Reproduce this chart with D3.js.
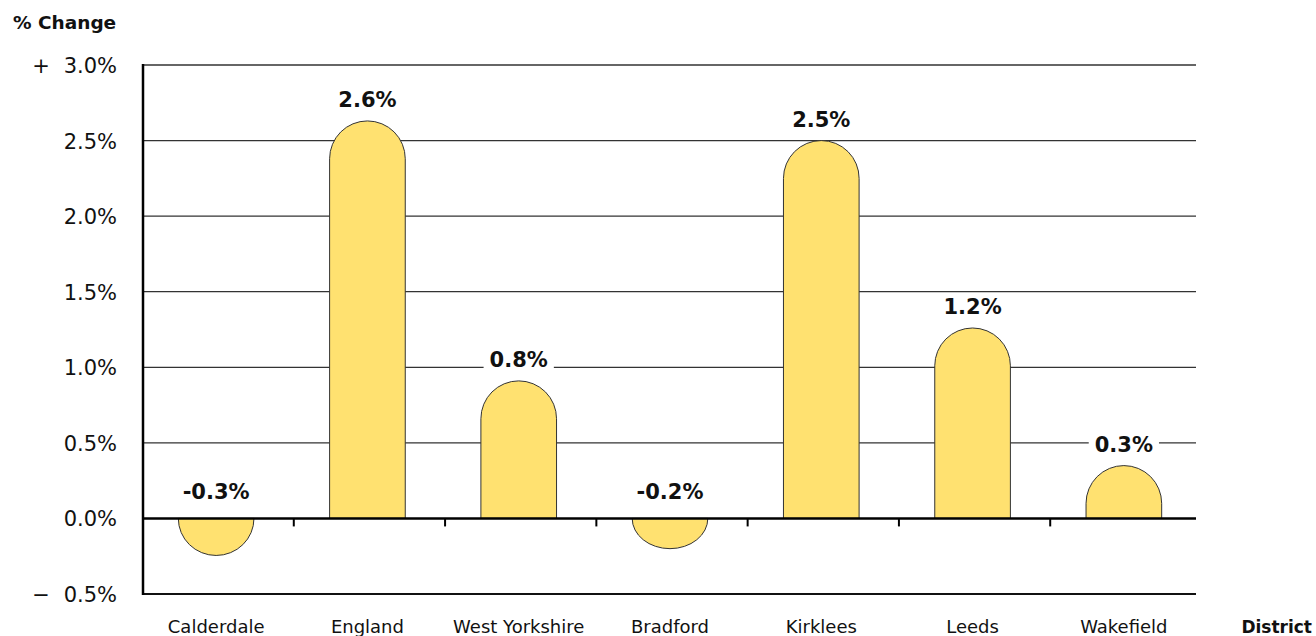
<!DOCTYPE html>
<html>
<head>
<meta charset="utf-8">
<script src="https://cdn.jsdelivr.net/npm/d3@7"></script>
<style>
  body { margin: 0; background: #fff; }
  text { font-family: "DejaVu Sans", sans-serif; fill: #111; }
</style>
</head>
<body>
<svg id="chart" width="1316" height="636"></svg>
<script>
// data
var districts = ["Calderdale", "England", "West Yorkshire", "Bradford", "Kirklees", "Leeds", "Wakefield"];
var barValues = [-0.245, 2.63, 0.91, -0.2, 2.5, 1.26, 0.35];
var valueLabels = ["-0.3%", "2.6%", "0.8%", "-0.2%", "2.5%", "1.2%", "0.3%"];
var yTicks = [-0.5, 0, 0.5, 1.0, 1.5, 2.0, 2.5, 3.0];
var yTickLabels = ["0.5%", "0.0%", "0.5%", "1.0%", "1.5%", "2.0%", "2.5%", "3.0%"];
var yTickSigns = ["\u2212", "", "", "", "", "", "", "+"];

var svg = d3.select("#chart");

var left = 143, right = 1196;

var y = d3.scaleLinear().domain([-0.5, 3.0]).range([594, 65]);
// bars sit a little left of the band middle in the original
var x = d3.scaleBand().domain(districts).range([left - 2.5, 1199.5])
    .paddingInner(0.5).paddingOuter(0.25);

var y0 = y(0);

// gridlines
svg.append("g").selectAll("line")
    .data(yTicks.filter(function(d) { return d !== 0; }))
    .enter().append("line")
    .attr("x1", left).attr("x2", right)
    .attr("y1", function(d) { return y(d); })
    .attr("y2", function(d) { return y(d); })
    .attr("stroke", function(d) { return d === -0.5 ? "#111" : "#333"; })
    .attr("stroke-width", function(d) { return d === -0.5 ? 2 : 1.3; });

// y tick labels
var yl = svg.append("g");
yl.selectAll("text.num")
    .data(yTicks)
    .enter().append("text")
    .attr("class", "num")
    .attr("x", 117)
    .attr("y", function(d) { return y(d) + 8; })
    .attr("text-anchor", "end")
    .style("font-size", "21px")
    .text(function(d, i) { return yTickLabels[i]; });
yl.selectAll("text.sign")
    .data(yTicks)
    .enter().append("text")
    .attr("class", "sign")
    .attr("x", 41)
    .attr("y", function(d) { return y(d) + 8; })
    .attr("text-anchor", "middle")
    .style("font-size", "21px")
    .text(function(d, i) { return yTickSigns[i]; });

// bar shape: rounded end, squashed into a half ellipse when short
function barPath(v, i) {
    var x0 = x(districts[i]), w = x.bandwidth(), x1 = x0 + w, r = w / 2;
    var yv = y(v);
    if (v >= 0) {
        var h = y0 - yv;
        if (h >= r)
            return "M" + x0 + "," + y0 + "V" + (yv + r) + "A" + r + "," + r + " 0 0 1 " + x1 + "," + (yv + r) + "V" + y0 + "Z";
        return "M" + x0 + "," + y0 + "A" + r + "," + h + " 0 0 1 " + x1 + "," + y0 + "Z";
    } else {
        var hn = yv - y0;
        if (hn >= r)
            return "M" + x0 + "," + y0 + "V" + (yv - r) + "A" + r + "," + r + " 0 0 0 " + x1 + "," + (yv - r) + "V" + y0 + "Z";
        return "M" + x0 + "," + y0 + "A" + r + "," + hn + " 0 0 0 " + x1 + "," + y0 + "Z";
    }
}

svg.append("g").selectAll("path")
    .data(barValues)
    .enter().append("path")
    .attr("d", barPath)
    .attr("fill", "#FFE170")
    .attr("stroke", "#333")
    .attr("stroke-width", 1);

// value labels, with a white box that cuts the gridline
var vl = svg.append("g").selectAll("g")
    .data(barValues)
    .enter().append("g")
    .attr("transform", function(d, i) {
        var cx = x(districts[i]) + x.bandwidth() / 2;
        var by = d >= 0 ? y(d) - 14 : y0 - 19;
        return "translate(" + cx + "," + by + ")";
    });
vl.append("rect");
vl.append("text")
    .attr("text-anchor", "middle")
    .style("font-size", "21px")
    .style("font-weight", "bold")
    .text(function(d, i) { return valueLabels[i]; });
vl.each(function() {
    var g = d3.select(this);
    var bb = g.select("text").node().getBBox();
    g.select("rect")
        .attr("x", bb.x - 6).attr("y", bb.y)
        .attr("width", bb.width + 12).attr("height", bb.height)
        .attr("fill", "#fff");
});

// zero line and category ticks
svg.append("line")
    .attr("x1", left).attr("x2", right)
    .attr("y1", y0).attr("y2", y0)
    .attr("stroke", "#000").attr("stroke-width", 2.5);

svg.append("g").selectAll("line")
    .data(districts.slice(1))
    .enter().append("line")
    .attr("x1", function(d) { return x(d) - x.step() * x.paddingInner() / 2 + 2; })
    .attr("x2", function(d) { return x(d) - x.step() * x.paddingInner() / 2 + 2; })
    .attr("y1", y0).attr("y2", y0 + 8)
    .attr("stroke", "#000").attr("stroke-width", 2);

// left axis line
svg.append("line")
    .attr("x1", left).attr("x2", left)
    .attr("y1", y(3.0) - 1).attr("y2", y(-0.5) + 1)
    .attr("stroke", "#000").attr("stroke-width", 2.5);

// category labels
svg.append("g").selectAll("text")
    .data(districts)
    .enter().append("text")
    .attr("x", function(d) { return x(d) + x.bandwidth() / 2; })
    .attr("y", 633)
    .attr("text-anchor", "middle")
    .style("font-size", "18px")
    .text(function(d) { return d; });

svg.append("text")
    .attr("x", 1312).attr("y", 633)
    .attr("text-anchor", "end")
    .style("font-size", "17px")
    .style("font-weight", "bold")
    .text("District");

svg.append("text")
    .attr("x", 13).attr("y", 29)
    .style("font-size", "18.5px")
    .style("font-weight", "bold")
    .text("% Change");
</script>
</body>
</html>
